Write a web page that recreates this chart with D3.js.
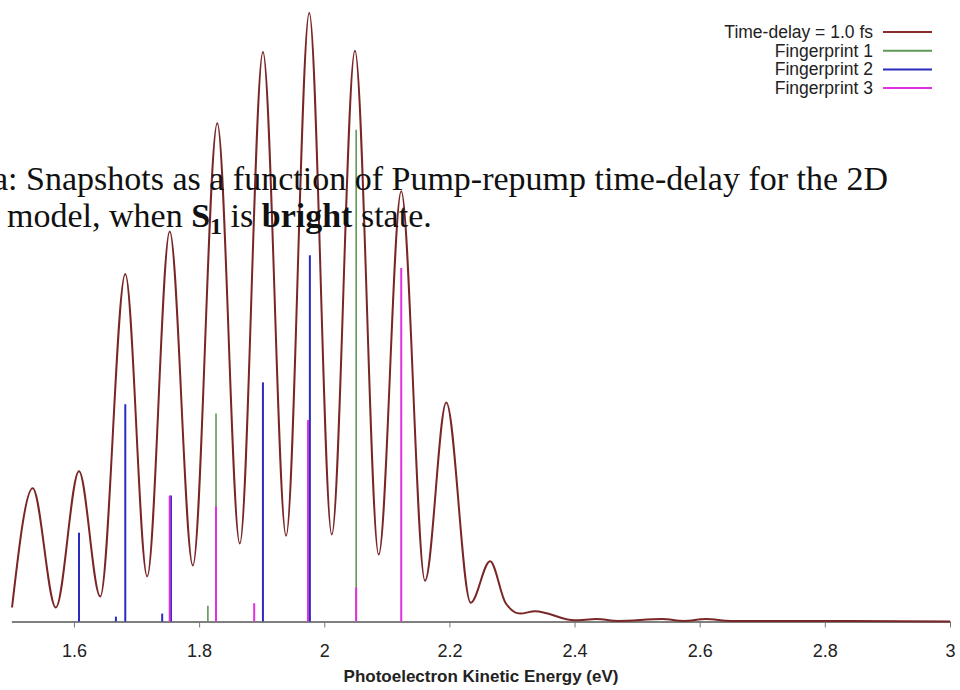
<!DOCTYPE html>
<html>
<head>
<meta charset="utf-8">
<script src="https://cdn.jsdelivr.net/npm/d3@7"></script>
<style>
  body { margin: 0; background: #fff; }
</style>
</head>
<body>
<div id="spectrum"></div>
<script>
// photoelectron spectrum, time-delay = 1.0 fs
var curveEnergy = [1.501, 1.534, 1.571, 1.608, 1.642, 1.682, 1.717, 1.753, 1.790, 1.829,
                   1.865, 1.902, 1.939, 1.976, 2.012, 2.049, 2.087, 2.123, 2.161, 2.195,
                   2.234, 2.265, 2.290, 2.313, 2.337, 2.400, 2.435, 2.470, 2.540, 2.575,
                   2.610, 2.650, 2.800, 3.000];
var curveIntensity = [0.023, 0.219, 0.023, 0.247, 0.041, 0.571, 0.074, 0.641, 0.092, 0.819,
                      0.128, 0.936, 0.141, 1.000, 0.143, 0.938, 0.110, 0.707, 0.067, 0.360,
                      0.031, 0.099, 0.030, 0.013, 0.017, 0.002, 0.004, 0.001, 0.004, 0.001,
                      0.004, 0.001, 0.001, 0.000];

// fingerprint sticks
var fp1Energy = [1.814, 1.827, 2.051];
var fp1Height = [0.026, 0.342, 0.808];
var fp2Energy = [1.608, 1.667, 1.682, 1.741, 1.755, 1.902, 1.977];
var fp2Height = [0.146, 0.008, 0.357, 0.013, 0.207, 0.393, 0.602];
var fp3Energy = [1.753, 1.827, 1.888, 1.974, 2.051, 2.123];
var fp3Height = [0.207, 0.189, 0.030, 0.331, 0.056, 0.581];

var tickValues = [1.6, 1.8, 2.0, 2.2, 2.4, 2.6, 2.8, 3.0];
var legendLabels = ["Time-delay = 1.0 fs", "Fingerprint 1", "Fingerprint 2", "Fingerprint 3"];
var legendColors = ["#8a2b2b", "#5e9a55", "#2b2bc0", "#e030e0"];

var width = 960, height = 690;

var svg = d3.select("#spectrum")
  .append("svg")
    .attr("width", width)
    .attr("height", height);

var x = d3.scaleLinear()
  .domain([1.5, 3.0])
  .range([11.4, 950]);

var y = d3.scaleLinear()
  .domain([0, 1])
  .range([621.5, 13]);

// x axis
var xAxis = svg.append("g")
  .attr("transform", "translate(0," + y(0) + ")")
  .call(d3.axisBottom(x)
    .tickValues(tickValues)
    .tickFormat(d3.format("~g"))
    .tickSizeInner(6)
    .tickSizeOuter(0)
    .tickPadding(17));

xAxis.select(".domain")
  .attr("stroke", "#555")
  .attr("stroke-width", 1.5);
xAxis.selectAll(".tick line")
  .attr("stroke", "#777");
xAxis.selectAll(".tick text")
  .attr("fill", "#222")
  .style("font-family", "'Liberation Sans', Arial, sans-serif")
  .style("font-size", "18px");

svg.append("text")
  .attr("x", 481)
  .attr("y", 682)
  .attr("text-anchor", "middle")
  .attr("font-weight", 700)
  .style("font-family", "'Liberation Sans', Arial, sans-serif")
  .style("font-size", "17px")
  .attr("fill", "#222")
  .text("Photoelectron Kinetic Energy (eV)");

// sticks
function drawSticks(energy, heights, color, w) {
  svg.append("g")
    .selectAll("line")
    .data(energy)
    .enter()
    .append("line")
      .attr("x1", function(d) { return x(d); })
      .attr("x2", function(d) { return x(d); })
      .attr("y1", y(0))
      .attr("y2", function(d, i) { return y(heights[i]); })
      .attr("stroke", color)
      .attr("stroke-width", w);
}
drawSticks(fp1Energy, fp1Height, legendColors[1], 1.6);
drawSticks(fp2Energy, fp2Height, legendColors[2], 2);
drawSticks(fp3Energy, fp3Height, legendColors[3], 2);

// spectrum curve
var curveData = curveEnergy.map(function(e, i) { return [e, curveIntensity[i]]; });

svg.append("path")
  .datum(curveData)
  .attr("fill", "none")
  .attr("stroke", "#7a2626")
  .attr("stroke-width", 2)
  .attr("d", d3.line()
    .x(function(d) { return x(d[0]); })
    .y(function(d) { return y(d[1]); })
    .curve(d3.curveMonotoneX));

// legend
var legend = svg.append("g")
  .selectAll("g")
  .data(legendLabels)
  .enter()
  .append("g")
    .attr("transform", function(d, i) { return "translate(0," + (32 + i * 18.7) + ")"; });

legend.append("text")
  .attr("x", 873)
  .attr("y", 6)
  .attr("text-anchor", "end")
  .attr("fill", "#222")
  .style("font-family", "'Liberation Sans', Arial, sans-serif")
  .style("font-size", "17.5px")
  .text(function(d) { return d; });

legend.append("line")
  .attr("x1", 883)
  .attr("x2", 932)
  .attr("stroke", function(d, i) { return legendColors[i]; })
  .attr("stroke-width", 2);

// caption overlaid on the chart
var caption = svg.append("g")
  .style("font-family", "'Liberation Serif', 'Times New Roman', serif")
  .style("font-size", "34px")
  .attr("fill", "#111");

caption.append("text")
  .attr("x", -7)
  .attr("y", 190)
  .text("a: Snapshots as a function of Pump-repump time-delay for the 2D");

var line2 = caption.append("text")
  .attr("x", 7)
  .attr("y", 227);
line2.append("tspan").text("model, when ");
line2.append("tspan").attr("font-weight", 700).text("S");
line2.append("tspan").attr("font-weight", 700).attr("dy", 7).style("font-size", "24px").text("1");
line2.append("tspan").attr("dy", -7).text(" is ");
line2.append("tspan").attr("font-weight", 700).text("bright");
line2.append("tspan").text(" state.");
</script>
</body>
</html>
